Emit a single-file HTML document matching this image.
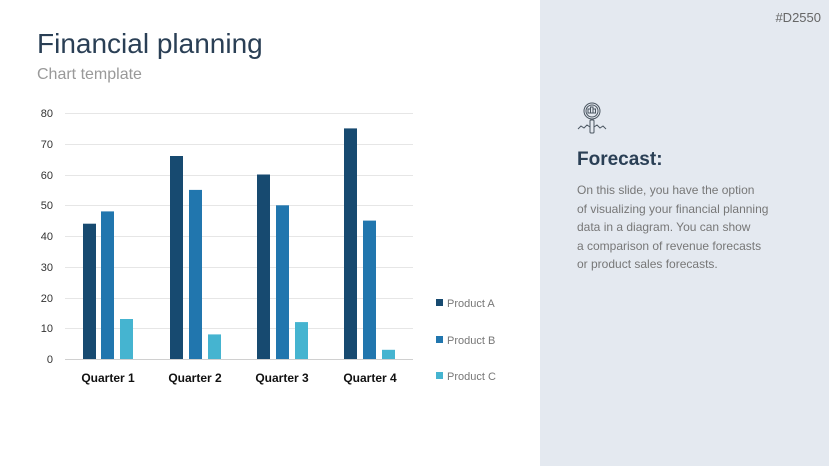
<!DOCTYPE html>
<html><head><style>
body{margin:0;width:829px;height:466px;background:#fff;position:relative;overflow:hidden;font-family:"Liberation Sans",sans-serif}
.a{position:absolute}
</style></head><body>
<div class="a" style="left:540px;top:0;width:289px;height:466px;background:#e4e9f0"></div>
<div class="a" style="right:8px;top:10px;font-size:13px;color:#666">#D2550</div>
<div class="a" style="left:37px;top:28px;font-size:28px;color:#2a3f55">Financial planning</div>
<div class="a" style="left:37px;top:66px;font-size:16px;color:#999">Chart template</div>
<svg class="a" style="left:0;top:0" width="829" height="466">
<g stroke="#e6e6e6" stroke-width="1">
<line x1="65" x2="413" y1="113.5" y2="113.5"/><line x1="65" x2="413" y1="144.5" y2="144.5"/>
<line x1="65" x2="413" y1="175.5" y2="175.5"/><line x1="65" x2="413" y1="205.5" y2="205.5"/>
<line x1="65" x2="413" y1="236.5" y2="236.5"/><line x1="65" x2="413" y1="267.5" y2="267.5"/>
<line x1="65" x2="413" y1="298.5" y2="298.5"/><line x1="65" x2="413" y1="328.5" y2="328.5"/>
</g>
<line x1="65" x2="413" y1="359.5" y2="359.5" stroke="#d0d0d0"/>
<g font-size="11" fill="#333" text-anchor="end">
<text x="53" y="117">80</text><text x="53" y="148">70</text><text x="53" y="179">60</text><text x="53" y="209">50</text>
<text x="53" y="240">40</text><text x="53" y="271">30</text><text x="53" y="302">20</text><text x="53" y="332">10</text><text x="53" y="363">0</text>
</g>
<g fill="#174a70">
<rect x="83" y="223.7" width="13" height="135.3"/><rect x="170" y="156" width="13" height="203"/>
<rect x="257" y="174.5" width="13" height="184.5"/><rect x="344" y="128.4" width="13" height="230.6"/></g>
<g fill="#2176ae">
<rect x="101" y="211.4" width="13" height="147.6"/><rect x="189" y="189.9" width="13" height="169.1"/>
<rect x="276" y="205.3" width="13" height="153.7"/><rect x="363" y="220.6" width="13" height="138.4"/></g>
<g fill="#45b4d0">
<rect x="120" y="319" width="13" height="40"/><rect x="208" y="334.4" width="13" height="24.6"/>
<rect x="295" y="322.1" width="13" height="36.9"/><rect x="382" y="349.8" width="13" height="9.2"/></g>
<g font-size="12" font-weight="bold" fill="#111" text-anchor="middle">
<text x="108" y="382">Quarter 1</text><text x="195" y="382">Quarter 2</text><text x="282" y="382">Quarter 3</text><text x="370" y="382">Quarter 4</text></g>
<rect x="436" y="299" width="7" height="7" fill="#174a70"/><rect x="436" y="336" width="7" height="7" fill="#2176ae"/><rect x="436" y="372" width="7" height="7" fill="#45b4d0"/>
<g font-size="11" fill="#777"><text x="447" y="307">Product A</text><text x="447" y="344">Product B</text><text x="447" y="380">Product C</text></g>
<g stroke="#4a5560" fill="none" stroke-width="1">
<circle cx="592" cy="111" r="8"/><circle cx="592" cy="111" r="6"/>
<rect x="588" y="109" width="2.5" height="4"/><rect x="590.5" y="107" width="2.5" height="6"/><rect x="593" y="109" width="2.5" height="4"/>
<rect x="590" y="120" width="4" height="13" rx="1"/>
<polyline points="578,129 581,126 584,128 587,125 590,127"/><polyline points="594,127 597,125 600,128 603,126 606,129"/>
</g>
</svg>
<div class="a" style="left:577px;top:149px;font-size:19px;font-weight:bold;color:#2a3f55">Forecast:</div>
<div class="a" style="left:577px;top:181px;font-size:12px;line-height:18.5px;color:#777">On this slide, you have the option<br>of visualizing your financial planning<br>data in a diagram. You can show<br>a comparison of revenue forecasts<br>or product sales forecasts.</div>
</body></html>
